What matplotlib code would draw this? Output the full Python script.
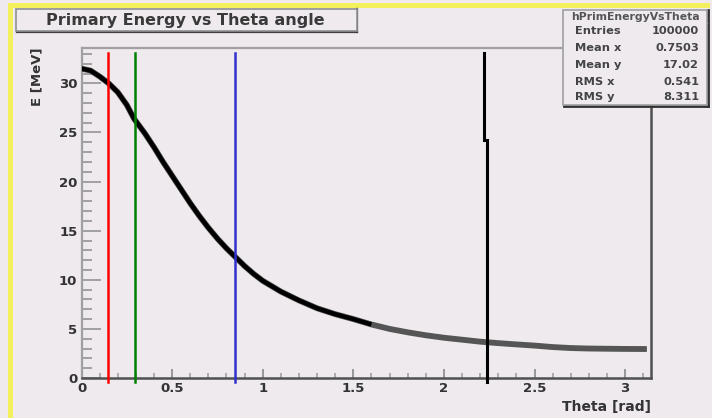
import matplotlib
matplotlib.use("Agg")
import matplotlib.pyplot as plt
from matplotlib.patches import Rectangle
from matplotlib.lines import Line2D
from matplotlib.ticker import MultipleLocator

# profile of primary energy vs theta
theta = [0.0, 0.05, 0.10, 0.15, 0.20, 0.25, 0.29, 0.35, 0.40, 0.45,
         0.50, 0.55, 0.60, 0.65, 0.70, 0.75, 0.80, 0.85, 0.90, 0.95,
         1.00, 1.10, 1.20, 1.30, 1.40, 1.50, 1.60, 1.70, 1.80, 1.90,
         2.00, 2.10, 2.20, 2.30, 2.40, 2.50, 2.60, 2.70, 2.80, 2.90,
         3.00, 3.12]
energy = [31.5, 31.3, 30.7, 30.0, 29.1, 27.8, 26.4, 24.9, 23.5, 22.0,
          20.6, 19.2, 17.8, 16.5, 15.3, 14.2, 13.2, 12.3, 11.4, 10.6,
          9.9, 8.8, 7.9, 7.1, 6.5, 6.0, 5.45, 5.0, 4.65, 4.35,
          4.1, 3.9, 3.7, 3.55, 3.42, 3.3, 3.15, 3.05, 3.0, 2.98,
          2.96, 2.95]

# vertical marker lines
marker_theta = [0.146, 0.297, 0.845]
marker_colors = ['#FF0000', '#008000', '#3030CC']
black_upper_theta = 2.222
black_lower_theta = 2.238
black_break_E = 24.2

stats_name = 'hPrimEnergyVsTheta'
stats_labels = ['Entries', 'Mean x', 'Mean y', 'RMS x', 'RMS y']
stats_values = ['100000', '0.7503', '17.02', '0.541', '8.311']

W, H = 712, 418
bg = '#EEEAEE'

def fx(p):
    return p / W

def fy(p):
    return 1 - p / H

fig = plt.figure(figsize=(W / 100, H / 100), dpi=100)
fig.patch.set_facecolor(bg)
font = 'DejaVu Sans'

ax = fig.add_axes([fx(81.5), fy(378), (650.5 - 81.5) / W, (378 - 48) / H])
ax.set_facecolor(bg)

# curve: grey band with darker core
ax.plot(theta, energy, color='#555555', lw=4.2, solid_capstyle='butt', zorder=3)
core = [i for i, t in enumerate(theta) if t <= 1.6]
ax.plot([theta[i] for i in core], [energy[i] for i in core], color='black',
        lw=3.2, solid_capstyle='butt', zorder=4)

for t, c in zip(marker_theta, marker_colors):
    ax.axvline(t, ymin=-0.012, ymax=0.985, color=c, lw=1.8, clip_on=False, zorder=5)
ax.axvline(black_upper_theta, ymin=black_break_E / 33.6, ymax=0.985,
           color='black', lw=2.2, clip_on=False, zorder=5)
ax.axvline(black_lower_theta, ymin=-0.012, ymax=black_break_E / 33.6,
           color='black', lw=2.2, clip_on=False, zorder=5)

ax.set_xlim(0, 3.14)
ax.set_ylim(0, 33.6)

for s in ['left', 'top']:
    ax.spines[s].set_color('#A0A0A0')
    ax.spines[s].set_linewidth(1.6)
for s in ['bottom', 'right']:
    ax.spines[s].set_color('#505050')
    ax.spines[s].set_linewidth(1.8)

ax.xaxis.set_major_locator(MultipleLocator(0.5))
ax.xaxis.set_minor_locator(MultipleLocator(0.1))
ax.yaxis.set_major_locator(MultipleLocator(5))
ax.yaxis.set_minor_locator(MultipleLocator(1))
ax.xaxis.set_major_formatter(plt.FuncFormatter(lambda v, p: ('%g' % v)))
ax.tick_params(axis='x', which='major', direction='in', length=6.5, width=1.3,
               color='#909090', pad=3, labelsize=9.5, labelcolor='#333333')
ax.tick_params(axis='x', which='minor', direction='in', length=3.5, width=1.2,
               color='#A0A0A0')
ax.tick_params(axis='y', which='major', direction='in', length=13.5, width=1.4,
               color='#A0A0A0', pad=3, labelsize=9.5, labelcolor='#333333')
ax.tick_params(axis='y', which='minor', direction='in', length=7, width=1.4,
               color='#A0A0A0')
for lab in ax.get_xticklabels() + ax.get_yticklabels():
    lab.set_fontweight('bold')
    lab.set_family(font)

# axis titles
fig.text(fx(37), fy(47), 'E [MeV]', rotation=90, ha='center', va='top',
         fontsize=9.5, fontweight='bold', color='#333333', family=font)
fig.text(fx(651), fy(407), 'Theta [rad]', ha='right', va='center',
         fontsize=10, fontweight='bold', color='#333333', family=font)

# yellow pad highlight
fig.patches.append(Rectangle((fx(8), 0), 5 / W, fy(3), transform=fig.transFigure,
                             facecolor='#F4EF5C', edgecolor='none', zorder=0))
fig.patches.append(Rectangle((fx(8), fy(8)), (710 - 8) / W, 5 / H,
                             transform=fig.transFigure, facecolor='#F4EF5C',
                             edgecolor='none', zorder=0))

# title box
fig.patches.append(Rectangle((fx(16), fy(31)), (357 - 16) / W, 22 / H,
                             transform=fig.transFigure, facecolor=bg,
                             edgecolor='#909090', lw=1.2, zorder=2))
fig.lines.append(Line2D([fx(17), fx(357)], [fy(31.5), fy(31.5)],
                        transform=fig.transFigure, color='#404040', lw=1.6))
fig.lines.append(Line2D([fx(357), fx(357)], [fy(9), fy(31.5)],
                        transform=fig.transFigure, color='#404040', lw=1.6))
fig.text(fx(185), fy(20), 'Primary Energy vs Theta angle', ha='center',
         va='center', fontsize=11.5, fontweight='bold', color='#3a3a3a',
         family=font, zorder=3)

# stats box
fig.patches.append(Rectangle((fx(563), fy(105)), (707 - 563) / W, 95 / H,
                             transform=fig.transFigure, facecolor=bg,
                             edgecolor='#A0A0A0', lw=1.2, zorder=2))
fig.lines.append(Line2D([fx(564), fx(708)], [fy(105.5), fy(105.5)],
                        transform=fig.transFigure, color='#303030', lw=2))
fig.lines.append(Line2D([fx(707.5), fx(707.5)], [fy(10), fy(105.5)],
                        transform=fig.transFigure, color='#303030', lw=2))
fig.lines.append(Line2D([fx(563), fx(707)], [fy(23), fy(23)],
                        transform=fig.transFigure, color='#A0A0A0', lw=1))
fig.text(fx(635.5), fy(16.5), stats_name, ha='center', va='center', fontsize=7.8,
         fontweight='bold', color='#555555', family=font)
row_y = [31, 48, 65, 82, 97]
for yy, lab, val in zip(row_y, stats_labels, stats_values):
    fig.text(fx(575), fy(yy), lab, ha='left', va='center', fontsize=8.2,
             fontweight='bold', color='#444444', family=font)
    fig.text(fx(699), fy(yy), val, ha='right', va='center', fontsize=8.2,
             fontweight='bold', color='#444444', family=font)

fig.savefig('out.png', dpi=100, facecolor=bg)
